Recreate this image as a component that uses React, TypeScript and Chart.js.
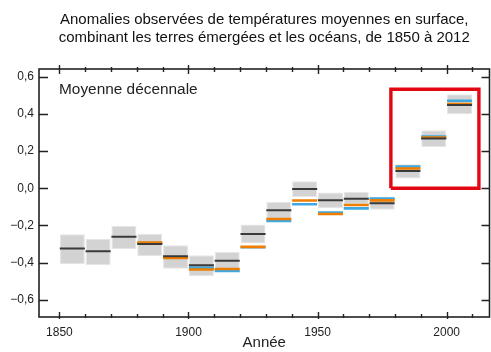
import React, { useEffect, useRef } from 'react';
import { Chart, registerables } from 'chart.js';

Chart.register(...registerables);

const FONT = '"Liberation Sans", Arial, Helvetica, sans-serif';

// Decade start years
const decades = [1850, 1860, 1870, 1880, 1890, 1900, 1910, 1920, 1930, 1940, 1950, 1960, 1970, 1980, 1990, 2000];
// Uncertainty range (grey boxes)
const boxLow = [-0.409, -0.414, -0.326, -0.364, -0.432, -0.473, -0.446, -0.297, -0.167, -0.047, -0.106, -0.086, -0.115, 0.052, 0.222, 0.398];
const boxHigh = [-0.247, -0.271, -0.203, -0.244, -0.306, -0.36, -0.342, -0.195, -0.074, 0.038, -0.023, -0.02, -0.047, 0.129, 0.312, 0.505];
// Decadal means of the three datasets
const seriesBlack = [-0.324, -0.339, -0.26, -0.299, -0.366, -0.414, -0.39, -0.246, -0.118, -0.004, -0.065, -0.056, -0.081, 0.093, 0.267, 0.448];
const seriesOrange = [null, null, null, -0.292, -0.375, -0.437, -0.434, -0.315, -0.165, -0.066, -0.138, -0.09, -0.065, 0.106, 0.272, 0.452];
const seriesBlue = [null, null, null, -0.294, -0.372, -0.427, -0.444, -0.317, -0.176, -0.086, -0.131, -0.108, -0.056, 0.117, 0.278, 0.47];

const xTickValues = [1850, 1860, 1870, 1880, 1890, 1900, 1910, 1920, 1930, 1940, 1950, 1960, 1970, 1980, 1990, 2000, 2010];
const yTickValues = [-0.6, -0.4, -0.2, 0, 0.2, 0.4, 0.6];

// Highlight rectangle (data units)
const highlightX = [1978.4, 2012.5, 2012.5, 1978.4, 1978.4];
const highlightY = [0.0, 0.0, 0.532, 0.532, 0.0];

const titleLines = [
  'Anomalies observées de températures moyennes en surface,',
  'combinant les terres émergées et les océans, de 1850 à 2012',
];
const insideLabel = 'Moyenne décennale';
const xAxisTitle = 'Année';

const X_MIN = 1842.1;
const X_MAX = 2016.6;
const Y_MIN = -0.692;
const Y_MAX = 0.641;

function segments(values: (number | null)[]) {
  const pts: { x: number; y: number | null }[] = [];
  decades.forEach((d, i) => {
    const v = values[i];
    if (v === null || v === undefined) return;
    pts.push({ x: d + 0.15, y: v });
    pts.push({ x: d + 9.85, y: v });
    pts.push({ x: d + 9.9, y: null });
  });
  return pts;
}

function fmtY(v: number) {
  const s = Math.abs(v).toFixed(1).replace('.', ',');
  return (v < -1e-9 ? '\u2212' : '') + s;
}

const framePlugin = {
  id: 'framePlugin',
  afterDatasetsDraw(chart: any) {
    const { ctx, chartArea: a, scales } = chart;
    const x = scales.x;
    const y = scales.y;
    ctx.save();
    ctx.strokeStyle = '#222';
    ctx.lineWidth = 1.6;
    ctx.strokeRect(a.left, a.top, a.right - a.left, a.bottom - a.top);
    ctx.lineWidth = 1.4;
    ctx.beginPath();
    xTickValues.forEach((v) => {
      const px = Math.round(x.getPixelForValue(v)) + 0.5;
      const major = v % 50 === 0;
      ctx.moveTo(px, a.bottom - (major ? 5 : 3));
      ctx.lineTo(px, a.bottom + (major ? 2 : 1));
      ctx.moveTo(px, a.top - (major ? 4 : 2));
      ctx.lineTo(px, a.top + (major ? 5 : 3));
    });
    yTickValues.forEach((v) => {
      const py = Math.round(y.getPixelForValue(v)) + 0.5;
      ctx.moveTo(a.left, py);
      ctx.lineTo(a.left + 9, py);
      ctx.moveTo(a.right, py);
      ctx.lineTo(a.right - 8, py);
    });
    ctx.stroke();
    ctx.fillStyle = '#222';
    ctx.font = '15.4px ' + FONT;
    ctx.textBaseline = 'alphabetic';
    ctx.textAlign = 'left';
    ctx.fillText(insideLabel, a.left + 20, a.top + 25);
    ctx.restore();
  },
};

export default function App() {
  const ref = useRef<HTMLCanvasElement | null>(null);

  useEffect(() => {
    if (!ref.current) return;
    Chart.defaults.font.family = FONT;
    const chart = new Chart(ref.current, {
      type: 'bar',
      data: {
        datasets: [
          {
            type: 'line',
            label: 'highlight',
            data: highlightX.map((xv, i) => ({ x: xv, y: highlightY[i] })),
            borderColor: '#e30613',
            borderWidth: 3.4,
            pointRadius: 0,
            fill: false,
            tension: 0,
            order: 0,
          } as any,
          {
            type: 'line',
            label: 'noir',
            data: segments(seriesBlack),
            borderColor: '#3a3a3a',
            borderWidth: 2,
            pointRadius: 0,
            spanGaps: false,
            order: 1,
          } as any,
          {
            type: 'line',
            label: 'orange',
            data: segments(seriesOrange),
            borderColor: '#ef7d00',
            borderWidth: 2.6,
            pointRadius: 0,
            spanGaps: false,
            order: 2,
          } as any,
          {
            type: 'line',
            label: 'bleu',
            data: segments(seriesBlue),
            borderColor: '#3ea9e0',
            borderWidth: 2.6,
            pointRadius: 0,
            spanGaps: false,
            order: 3,
          } as any,
          {
            type: 'bar',
            label: 'incertitude',
            data: decades.map((d, i) => ({ x: d + 5, y: [boxLow[i], boxHigh[i]] })),
            backgroundColor: '#d3d3d3',
            borderColor: '#e6e6e6',
            borderWidth: 1,
            borderSkipped: false,
            barPercentage: 0.97,
            categoryPercentage: 1,
            order: 4,
          } as any,
        ],
      },
      options: {
        animation: false,
        responsive: false,
        devicePixelRatio: 1,
        layout: { padding: { left: 0, right: 1.5, top: 0, bottom: 0 } },
        plugins: {
          legend: { display: false },
          tooltip: { enabled: false },
          title: {
            display: true,
            text: titleLines,
            fullSize: false,
            color: '#111',
            font: { size: 15, family: FONT, weight: 'normal', lineHeight: 1.25 },
            padding: { top: 10, bottom: 21.5 },
          },
        },
        scales: {
          x: {
            type: 'linear',
            min: X_MIN,
            max: X_MAX,
            offset: false,
            grid: { display: false, drawTicks: false },
            border: { display: false },
            afterBuildTicks: (scale: any) => {
              scale.ticks = xTickValues.map((v) => ({ value: v }));
            },
            afterFit: (scale: any) => {
              scale.height = 35;
            },
            ticks: {
              autoSkip: false,
              maxRotation: 0,
              padding: 8,
              color: '#222',
              font: { size: 12, family: FONT },
              callback: (v: any) => (Number(v) % 50 === 0 ? String(v) : ''),
            },
            title: {
              display: true,
              text: xAxisTitle,
              color: '#222',
              font: { size: 15, family: FONT },
              padding: { top: 0, bottom: 0 },
            },
          },
          y: {
            type: 'linear',
            min: Y_MIN,
            max: Y_MAX,
            grid: { display: false, drawTicks: false },
            border: { display: false },
            afterBuildTicks: (scale: any) => {
              scale.ticks = yTickValues.map((v) => ({ value: v }));
            },
            afterFit: (scale: any) => {
              scale.width = 39;
            },
            ticks: {
              padding: 5,
              color: '#222',
              font: { size: 12, family: FONT },
              callback: (v: any) => fmtY(Number(v)),
            },
          },
        },
      },
      plugins: [framePlugin],
    });
    return () => chart.destroy();
  }, []);

  return (
    <div style={{ position: 'absolute', left: 0, top: 0, width: 491, height: 352, background: '#fff' }}>
      <canvas ref={ref} width={491} height={352} />
    </div>
  );
}
